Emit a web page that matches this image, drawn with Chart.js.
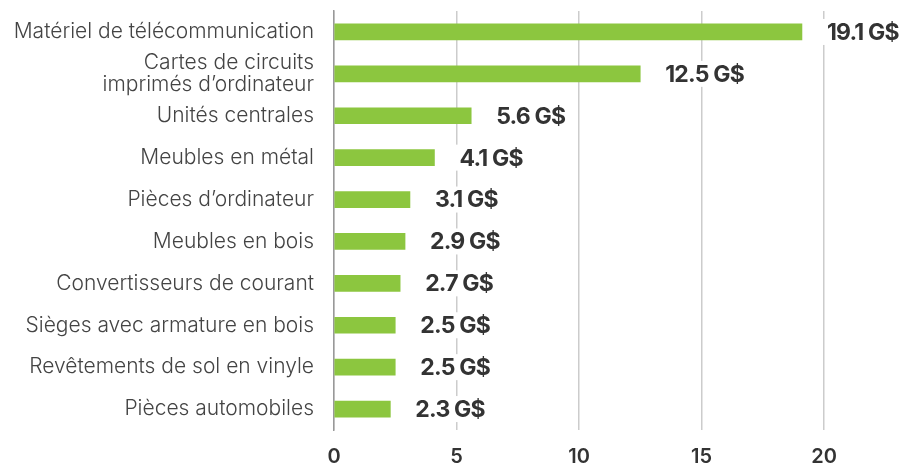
<!DOCTYPE html>
<html><head><meta charset="utf-8">
<script src="https://cdn.jsdelivr.net/npm/chart.js@4/dist/chart.umd.min.js"></script>
<style>html,body{margin:0;padding:0;background:#fff}#wrap{width:904px;height:464px}</style>
</head><body><div id="wrap"><canvas id="c" width="904" height="464"></canvas></div>
<script>
const categories = [
  "Matériel de télécommunication",
  ["Cartes de circuits", "imprimés d’ordinateur"],
  "Unités centrales",
  "Meubles en métal",
  "Pièces d’ordinateur",
  "Meubles en bois",
  "Convertisseurs de courant",
  "Sièges avec armature en bois",
  "Revêtements de sol en vinyle",
  "Pièces automobiles"
];
const values = [19.1, 12.5, 5.6, 4.1, 3.1, 2.9, 2.7, 2.5, 2.5, 2.3];
const valueLabels = ["19.1 G$", "12.5 G$", "5.6 G$", "4.1 G$", "3.1 G$", "2.9 G$", "2.7 G$", "2.5 G$", "2.5 G$", "2.3 G$"];
const xTicks = [0, 5, 10, 15, 20];

const labelPlugin = {
  id: 'valLabels',
  afterDatasetsDraw(chart) {
    const ctx = chart.ctx;
    const meta = chart.getDatasetMeta(0);
    ctx.save();
    ctx.font = 'bold 23px Inter, "Open Sans", sans-serif';
    try { ctx.letterSpacing = '-0.8px'; } catch(e) {}
    ctx.textBaseline = 'middle';
    ctx.textAlign = 'left';
    meta.data.forEach((bar, i) => {
      const txt = valueLabels[i];
      const x = bar.x + 25;
      const w = ctx.measureText(txt).width;
      ctx.fillStyle = '#ffffff';
      ctx.fillRect(x - 4, bar.y - 13, w + 8, 26);
      ctx.fillStyle = '#333333';
      ctx.fillText(txt, x, bar.y + 1);
    });
    ctx.restore();
  }
};

new Chart(document.getElementById('c'), {
  type: 'bar',
  data: { labels: categories, datasets: [{ data: values, backgroundColor: '#8cc63f', barThickness: 16 }] },
  options: {
    indexAxis: 'y',
    responsive: false,
    animation: false,
    layout: { padding: { top: 11, right: 80, left: 0, bottom: 0 } },
    plugins: { legend: { display: false }, tooltip: { enabled: false } },
    scales: {
      x: {
        min: 0, max: 20,
        afterBuildTicks(s) { s.ticks = xTicks.map(v => ({ value: v })); },
        afterFit(s) { s.height = 34; s.paddingLeft = 0; s.paddingRight = 0; },
        grid: { color: '#cccccc', lineWidth: 1.5, drawTicks: false },
        border: { display: false },
        ticks: { color: '#333', font: { family: 'Inter, sans-serif', size: 20, weight: 600 }, padding: 15 }
      },
      y: {
        afterFit(s) { s.width = 334; s.paddingTop = 0; s.paddingBottom = 0; },
        grid: { display: false, drawTicks: false },
        border: { display: true, color: '#999', width: 1.5 },
        ticks: { color: '#444', font: { family: 'Inter, sans-serif', size: 21, weight: 300, lineHeight: 1.05 }, padding: 20, autoSkip: false }
      }
    }
  },
  plugins: [labelPlugin]
});
</script></body></html>
